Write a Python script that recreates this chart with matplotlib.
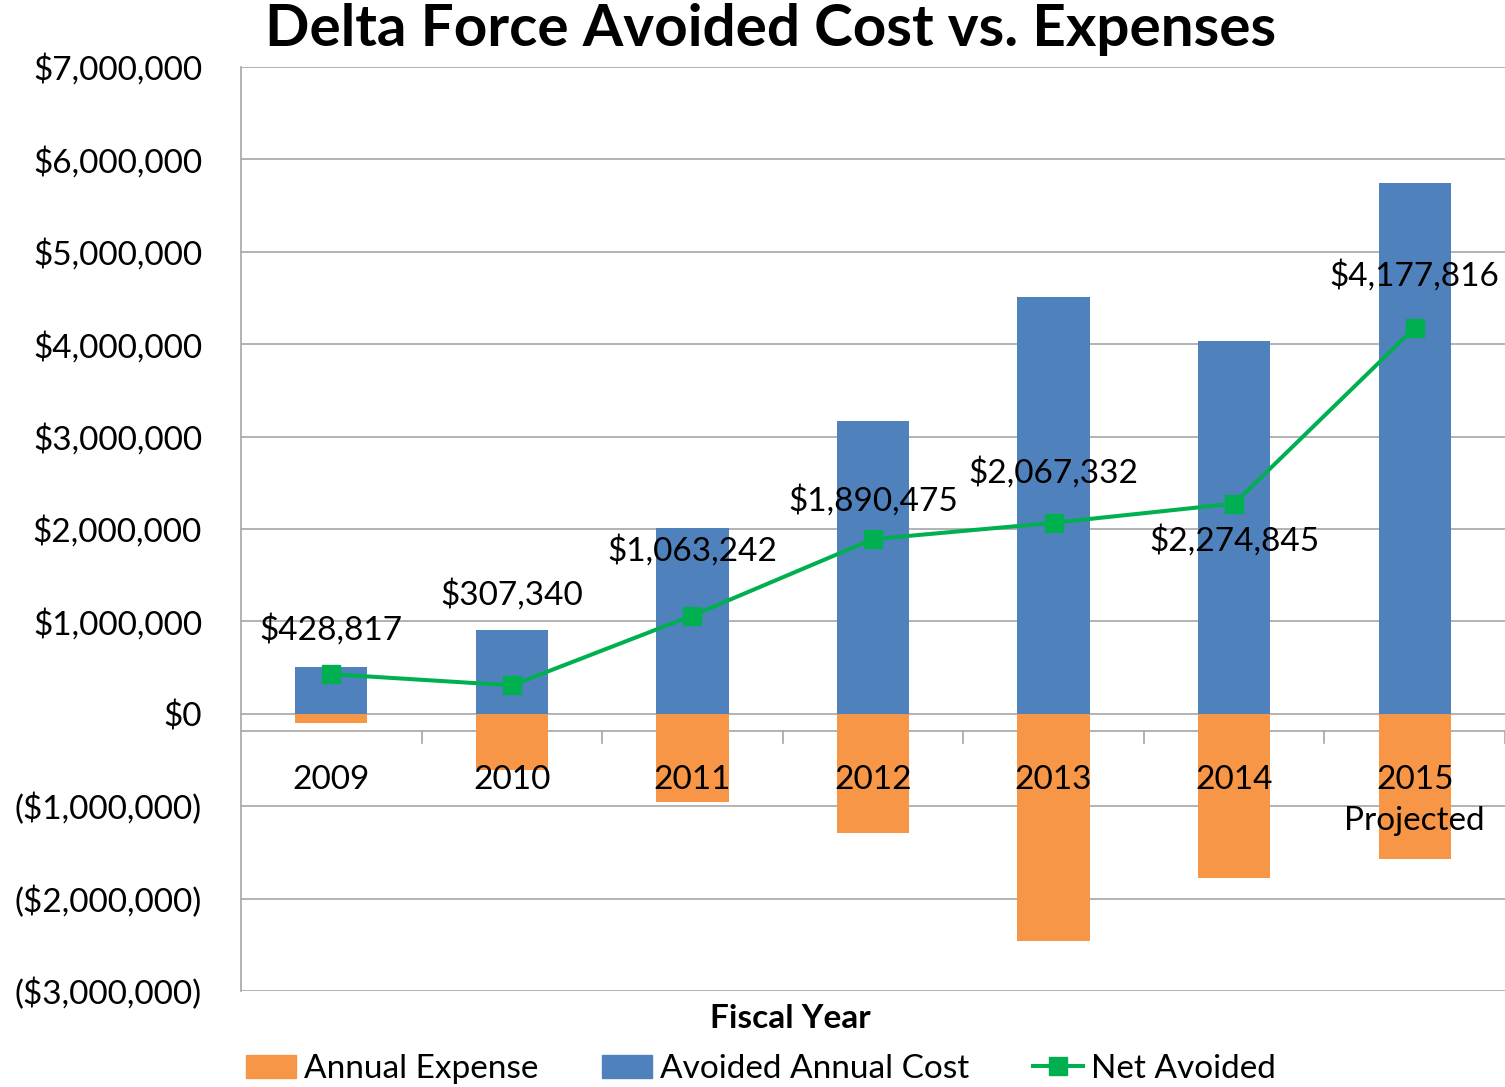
import numpy as np
import matplotlib
matplotlib.use("Agg")
import matplotlib.pyplot as plt
from matplotlib.patches import Patch
from matplotlib.lines import Line2D
from matplotlib.ticker import FuncFormatter, MultipleLocator

plt.rcParams['font.family'] = ['Lato', 'DejaVu Sans']

years = ['2009', '2010', '2011', '2012', '2013', '2014', '2015\nProjected']
avoided = [510000, 910000, 2010000, 3170000, 4510000, 4040000, 5740000]
expense = [-95000, -610000, -950000, -1290000, -2460000, -1780000, -1570000]
net_avoided = [428817, 307340, 1063242, 1890475, 2067332, 2274845, 4177816]
net_labels = ['$428,817', '$307,340', '$1,063,242', '$1,890,475',
              '$2,067,332', '$2,274,845', '$4,177,816']

c_blue = '#4F81BD'
c_orange = '#F79646'
c_green = '#00B050'
c_grid = '#A6A6A6'
fs = 24

fig = plt.figure(figsize=(15.05, 10.87), dpi=100)
ax = fig.add_axes([241 / 1505, 1 - 991 / 1087, 1264 / 1505, 924 / 1087])

x = np.arange(len(years))
ax.bar(x, avoided, width=0.4, color=c_blue, zorder=2)
ax.bar(x, expense, width=0.4, color=c_orange, zorder=2)
ax.plot(x, net_avoided, color=c_green, lw=2.9, marker='s', ms=13, zorder=3)

# data labels (moved by hand in the original, 2014 sits below)
offsets = [45, 91, 65, 39, 50, -37, 52]
for xi, v, lab, off in zip(x, net_avoided, net_labels, offsets):
    ax.annotate(lab, (xi, v), xytext=(0, off), textcoords='offset pixels',
                ha='center', va='center', fontsize=fs, zorder=4)

ax.set_xlim(-0.5, len(years) - 0.5)
ax.set_ylim(-3000000, 7000000)
ax.yaxis.set_major_locator(MultipleLocator(1000000))
ax.yaxis.set_major_formatter(FuncFormatter(
    lambda v, p: f'${v:,.0f}' if v >= 0 else f'(${-v:,.0f})'))
ax.tick_params(axis='y', length=0, pad=28, labelsize=fs)
ax.grid(axis='y', color=c_grid, lw=1.2, zorder=0)
ax.set_xticks([])
for s in ['top', 'right', 'bottom']:
    ax.spines[s].set_visible(False)
ax.spines['left'].set_color(c_grid)
ax.spines['left'].set_linewidth(1.2)

# category axis crossing below zero
axis_y = -190000
ax.axhline(axis_y, color=c_grid, lw=1.2, zorder=1)
for b in np.arange(0.5, len(years), 1.0):
    ax.plot([b, b], [axis_y, axis_y - 130000], color=c_grid, lw=1.2, zorder=1)
for xi, lab in zip(x, years):
    ax.annotate(lab, (xi, axis_y), xytext=(0, -34), textcoords='offset pixels',
                ha='center', va='top', fontsize=fs, linespacing=1.45, zorder=5)

fig.text(771 / 1505, 1 - 30 / 1087, 'Delta Force Avoided Cost vs. Expenses',
         ha='center', va='center', fontsize=42, fontweight='bold')
fig.text(790 / 1505, 1 - 1019 / 1087, 'Fiscal Year', ha='center', va='center',
         fontsize=fs, fontweight='bold')

handles = [Patch(color=c_orange), Patch(color=c_blue),
           Line2D([], [], color=c_green, lw=2.9, marker='s', ms=13)]
fig.legend(handles, ['Annual Expense', 'Avoided Annual Cost', 'Net Avoided'],
           loc='center', bbox_to_anchor=(761 / 1505, 1 - 1069 / 1087),
           ncol=3, frameon=False, fontsize=fs, handlelength=1.5,
           handletextpad=0.25, columnspacing=1.9, handleheight=0.7)

fig.savefig('out.png', dpi=100)
